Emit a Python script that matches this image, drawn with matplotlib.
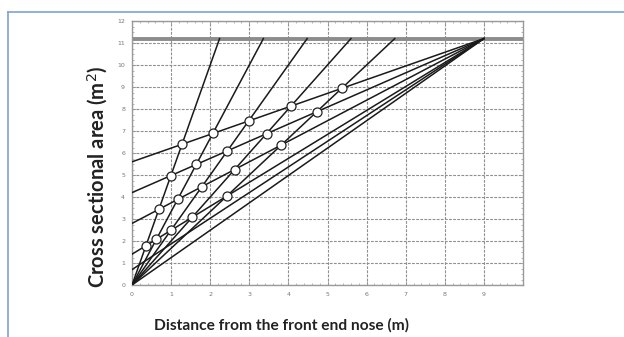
import matplotlib
matplotlib.use("Agg")
import matplotlib.pyplot as plt
from matplotlib.lines import Line2D
import numpy as np

# ---- data ----
top_level = 11.2                      # horizontal limit line (m^2)
apex_x, apex_y = 9.0, 11.2            # common end point of the body lines
nose_end_x = [2.24, 3.36, 4.48, 5.6, 6.72]   # steep nose lines from origin to y=11.2
body_start_y = [0.0, 0.7, 1.4, 2.8, 4.2, 5.6]  # body lines from (0, b) to apex
circle_x = [1.28, 2.07, 2.98, 4.06, 5.36,
            0.99, 1.64, 2.44, 3.44, 4.73,
            0.69, 1.17, 1.79, 2.63, 3.82,
            0.36, 0.62, 0.99, 1.54, 2.42]
circle_y = [6.40, 6.89, 7.46, 8.13, 8.94,
            4.97, 5.48, 6.10, 6.87, 7.88,
            3.44, 3.89, 4.47, 5.25, 6.36,
            1.79, 2.08, 2.48, 3.07, 4.04]
x_ticks = list(range(0, 10))
y_ticks = list(range(0, 13))

fig = plt.figure(figsize=(6.24, 3.37), dpi=100)
ax = fig.add_axes([132/624, 1-285/337, (523-132)/624, (285-21)/337])

ax.set_xlim(0, 10)
ax.set_ylim(0, 12)

# grid
ax.set_xticks(x_ticks)
ax.set_yticks(y_ticks)
ax.set_xticks(np.arange(0, 10.01, 0.2), minor=True)
ax.set_yticks(np.arange(0, 12.01, 0.25), minor=True)
ax.grid(True, which='major', color='#8f8f8f', linestyle=(0, (2.5, 1.2)), linewidth=0.8)
ax.tick_params(which='both', direction='in', top=True, right=True, color='#999999')
ax.tick_params(which='major', length=3, width=0.6, labelsize=4.5, labelcolor='#777777', pad=5)
ax.tick_params(which='minor', length=1.5, width=0.5)
for s in ax.spines.values():
    s.set_color('#999999')
    s.set_linewidth(1.0)

# horizontal limit
ax.axhline(top_level, color='#8c8c8c', linewidth=2.8, zorder=2)

# body lines to apex
for b in body_start_y:
    ax.plot([0, apex_x], [b, apex_y], color='#1a1a1a', linewidth=1.1, zorder=3)

# nose lines from origin
for xe in nose_end_x:
    ax.plot([0, xe], [0, top_level], color='#1a1a1a', linewidth=1.1, zorder=3)

ax.plot(circle_x, circle_y, linestyle='none', marker='o', markersize=6.5,
        markerfacecolor='white', markeredgecolor='#222222', markeredgewidth=0.9, zorder=4)

fig.text(281/624, 1-325/337, 'Distance from the front end nose (m)', fontsize=11.2,
         fontweight='bold', color='#222222', family='Lato', ha='center', va='center')
fig.text(98/624, 1-177/337, 'Cross sectional area (m$^2$)', fontsize=14.5,
         fontweight='bold', color='#222222', family='Lato', ha='center', va='center',
         rotation=90)

# light blue frame (top and left)
frame_col = '#7fa2d4'
fig.add_artist(Line2D([8/624, 1.0], [1-12/337, 1-12/337], color=frame_col, linewidth=1.2,
                      transform=fig.transFigure))
fig.add_artist(Line2D([8/624, 8/624], [0, 1-12/337], color=frame_col, linewidth=1.2,
                      transform=fig.transFigure))

fig.savefig('out.png', dpi=100)
